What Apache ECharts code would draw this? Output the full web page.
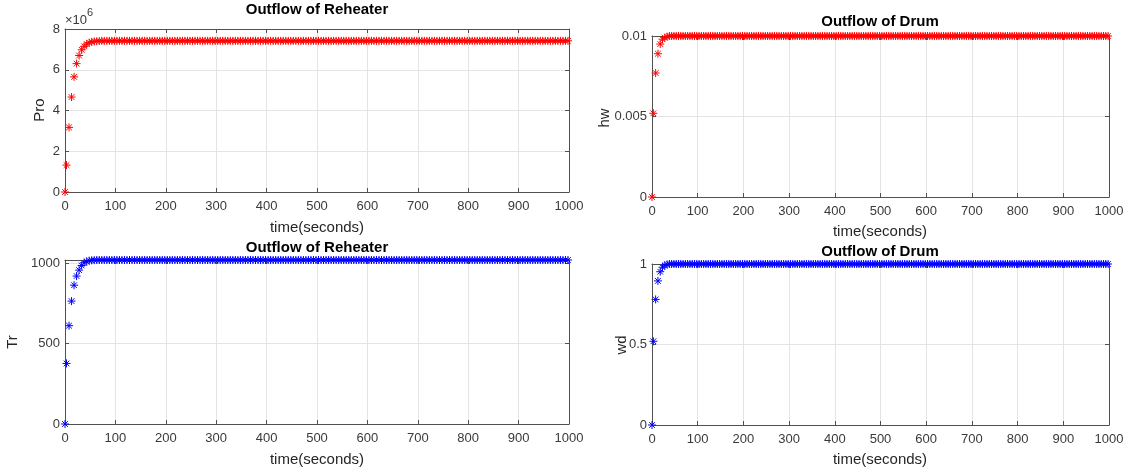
<!DOCTYPE html>
<html>
<head>
<meta charset="utf-8">
<script src="https://cdn.jsdelivr.net/npm/echarts@6/dist/echarts.min.js"></script>
<style>html,body{margin:0;padding:0;background:#fff;}#chart{width:1129px;height:470px;}</style>
</head>
<body>
<div id="chart"></div>
<script>
// time in seconds (sample instants)
const time = [0,3,8,13,18,23,28,33,38,43,48,53,58,63,68,73,78,83,88,93,98,
103,108,113,118,123,128,133,138,143,148,153,158,163,168,173,178,183,188,193,198,
203,208,213,218,223,228,233,238,243,248,253,258,263,268,273,278,283,288,293,298,
303,308,313,318,323,328,333,338,343,348,353,358,363,368,373,378,383,388,393,398,
403,408,413,418,423,428,433,438,443,448,453,458,463,468,473,478,483,488,493,498,
503,508,513,518,523,528,533,538,543,548,553,558,563,568,573,578,583,588,593,598,
603,608,613,618,623,628,633,638,643,648,653,658,663,668,673,678,683,688,693,698,
703,708,713,718,723,728,733,738,743,748,753,758,763,768,773,778,783,788,793,798,
803,808,813,818,823,828,833,838,843,848,853,858,863,868,873,878,883,888,893,898,
903,908,913,918,923,928,933,938,943,948,953,958,963,968,973,978,983,988,993,998];

// Pro, in units of 10^6
const pro = [0,1.32,3.17,4.66,5.65,6.3,6.7,6.98,7.15,7.26,7.33,7.37,7.39,7.4,7.41,7.42,7.42,7.42,7.42,7.42,7.42,
7.42,7.42,7.42,7.42,7.42,7.42,7.42,7.42,7.42,7.42,7.42,7.42,7.42,7.42,7.42,7.42,7.42,7.42,7.42,7.42,
7.42,7.42,7.42,7.42,7.42,7.42,7.42,7.42,7.42,7.42,7.42,7.42,7.42,7.42,7.42,7.42,7.42,7.42,7.42,7.42,
7.42,7.42,7.42,7.42,7.42,7.42,7.42,7.42,7.42,7.42,7.42,7.42,7.42,7.42,7.42,7.42,7.42,7.42,7.42,7.42,
7.42,7.42,7.42,7.42,7.42,7.42,7.42,7.42,7.42,7.42,7.42,7.42,7.42,7.42,7.42,7.42,7.42,7.42,7.42,7.42,
7.42,7.42,7.42,7.42,7.42,7.42,7.42,7.42,7.42,7.42,7.42,7.42,7.42,7.42,7.42,7.42,7.42,7.42,7.42,7.42,
7.42,7.42,7.42,7.42,7.42,7.42,7.42,7.42,7.42,7.42,7.42,7.42,7.42,7.42,7.42,7.42,7.42,7.42,7.42,7.42,
7.42,7.42,7.42,7.42,7.42,7.42,7.42,7.42,7.42,7.42,7.42,7.42,7.42,7.42,7.42,7.42,7.42,7.42,7.42,7.42,
7.42,7.42,7.42,7.42,7.42,7.42,7.42,7.42,7.42,7.42,7.42,7.42,7.42,7.42,7.42,7.42,7.42,7.42,7.42,7.42,
7.42,7.42,7.42,7.42,7.42,7.42,7.42,7.42,7.42,7.42,7.42,7.42,7.42,7.42,7.42,7.42,7.42,7.42,7.42,7.42];

const tr = [0,377,612,765,864,921,958,987,1004,1012,1017,1019,1020,1021,1021,1021,1021,1021,1021,1021,1021,
1021,1021,1021,1021,1021,1021,1021,1021,1021,1021,1021,1021,1021,1021,1021,1021,1021,1021,1021,1021,
1021,1021,1021,1021,1021,1021,1021,1021,1021,1021,1021,1021,1021,1021,1021,1021,1021,1021,1021,1021,
1021,1021,1021,1021,1021,1021,1021,1021,1021,1021,1021,1021,1021,1021,1021,1021,1021,1021,1021,1021,
1021,1021,1021,1021,1021,1021,1021,1021,1021,1021,1021,1021,1021,1021,1021,1021,1021,1021,1021,1021,
1021,1021,1021,1021,1021,1021,1021,1021,1021,1021,1021,1021,1021,1021,1021,1021,1021,1021,1021,1021,
1021,1021,1021,1021,1021,1021,1021,1021,1021,1021,1021,1021,1021,1021,1021,1021,1021,1021,1021,1021,
1021,1021,1021,1021,1021,1021,1021,1021,1021,1021,1021,1021,1021,1021,1021,1021,1021,1021,1021,1021,
1021,1021,1021,1021,1021,1021,1021,1021,1021,1021,1021,1021,1021,1021,1021,1021,1021,1021,1021,1021,
1021,1021,1021,1021,1021,1021,1021,1021,1021,1021,1021,1021,1021,1021,1021,1021,1021,1021,1021,1021];

const hw = [0,0.0052,0.0077,0.0089,0.0095,0.0098,0.0099,0.00996,0.01,0.01,0.01,0.01,0.01,0.01,0.01,0.01,0.01,0.01,0.01,0.01,0.01,
0.01,0.01,0.01,0.01,0.01,0.01,0.01,0.01,0.01,0.01,0.01,0.01,0.01,0.01,0.01,0.01,0.01,0.01,0.01,0.01,
0.01,0.01,0.01,0.01,0.01,0.01,0.01,0.01,0.01,0.01,0.01,0.01,0.01,0.01,0.01,0.01,0.01,0.01,0.01,0.01,
0.01,0.01,0.01,0.01,0.01,0.01,0.01,0.01,0.01,0.01,0.01,0.01,0.01,0.01,0.01,0.01,0.01,0.01,0.01,0.01,
0.01,0.01,0.01,0.01,0.01,0.01,0.01,0.01,0.01,0.01,0.01,0.01,0.01,0.01,0.01,0.01,0.01,0.01,0.01,0.01,
0.01,0.01,0.01,0.01,0.01,0.01,0.01,0.01,0.01,0.01,0.01,0.01,0.01,0.01,0.01,0.01,0.01,0.01,0.01,0.01,
0.01,0.01,0.01,0.01,0.01,0.01,0.01,0.01,0.01,0.01,0.01,0.01,0.01,0.01,0.01,0.01,0.01,0.01,0.01,0.01,
0.01,0.01,0.01,0.01,0.01,0.01,0.01,0.01,0.01,0.01,0.01,0.01,0.01,0.01,0.01,0.01,0.01,0.01,0.01,0.01,
0.01,0.01,0.01,0.01,0.01,0.01,0.01,0.01,0.01,0.01,0.01,0.01,0.01,0.01,0.01,0.01,0.01,0.01,0.01,0.01,
0.01,0.01,0.01,0.01,0.01,0.01,0.01,0.01,0.01,0.01,0.01,0.01,0.01,0.01,0.01,0.01,0.01,0.01,0.01,0.01];

const wd = [0,0.52,0.78,0.895,0.952,0.98,0.992,0.997,1,1,1,1,1,1,1,1,1,1,1,1,1,
1,1,1,1,1,1,1,1,1,1,1,1,1,1,1,1,1,1,1,1,
1,1,1,1,1,1,1,1,1,1,1,1,1,1,1,1,1,1,1,1,
1,1,1,1,1,1,1,1,1,1,1,1,1,1,1,1,1,1,1,1,
1,1,1,1,1,1,1,1,1,1,1,1,1,1,1,1,1,1,1,1,
1,1,1,1,1,1,1,1,1,1,1,1,1,1,1,1,1,1,1,1,
1,1,1,1,1,1,1,1,1,1,1,1,1,1,1,1,1,1,1,1,
1,1,1,1,1,1,1,1,1,1,1,1,1,1,1,1,1,1,1,1,
1,1,1,1,1,1,1,1,1,1,1,1,1,1,1,1,1,1,1,1,
1,1,1,1,1,1,1,1,1,1,1,1,1,1,1,1,1,1,1,1];

const titles = ['Outflow of Reheater', 'Outflow of Reheater', 'Outflow of Drum', 'Outflow of Drum'];
const yNames = ['Pro', 'Tr', 'hw', 'wd'];
const xName = 'time(seconds)';
const yMax = [8, 1021, 0.01, 1];
const yInterval = [2, 500, 0.005, 0.5];

const FONT = '"Liberation Sans", Arial, sans-serif';
const grids = [
  {left: 65, top: 29, width: 504, height: 163},
  {left: 65, top: 260, width: 504, height: 164},
  {left: 652, top: 36, width: 457, height: 161},
  {left: 652, top: 264, width: 457, height: 161}
];
const colors = ['#ff0000', '#0000ff', '#ff0000', '#0000ff'];
const seriesData = [pro, tr, hw, wd];
const star = 'path://M-5,0L5,0M0,-5L0,5M-3.54,-3.54L3.54,3.54M-3.54,3.54L3.54,-3.54';
const axisColor = '#505050';
const labelColor = '#3a3a3a';
const plain = v => String(+v.toPrecision(6));

const xAxes = [], yAxes = [], series = [];
for (let i = 0; i < 4; i++) {
  xAxes.push({
    type: 'value', gridIndex: i, min: 0, max: 1000, interval: 100,
    axisLine: {show: true, onZero: false, lineStyle: {color: axisColor, width: 1}},
    axisTick: {show: true, inside: true, length: 4, lineStyle: {color: axisColor}},
    axisLabel: {color: labelColor, fontSize: 13, fontFamily: FONT, margin: 8, formatter: plain},
    splitLine: {show: true, lineStyle: {color: '#e4e4e4', width: 1}}
  });
  yAxes.push({
    type: 'value', gridIndex: i, min: 0, max: yMax[i], interval: yInterval[i],
    axisLine: {show: true, onZero: false, lineStyle: {color: axisColor, width: 1}},
    axisTick: {show: true, inside: true, length: 4, lineStyle: {color: axisColor}},
    axisLabel: {color: labelColor, fontSize: 13, fontFamily: FONT, margin: 5, formatter: plain,
                showMaxLabel: i === 1 ? false : null},
    splitLine: {show: true, lineStyle: {color: '#e4e4e4', width: 1}}
  });
}
for (let i = 0; i < 4; i++) {
  xAxes.push({
    type: 'value', gridIndex: i, position: 'top', min: 0, max: 1000, interval: 100,
    axisLine: {show: true, onZero: false, lineStyle: {color: axisColor, width: 1}},
    axisTick: {show: true, inside: true, length: 4, lineStyle: {color: axisColor}},
    axisLabel: {show: false}, splitLine: {show: false}
  });
  yAxes.push({
    type: 'value', gridIndex: i, position: 'right', min: 0, max: yMax[i], interval: yInterval[i],
    axisLine: {show: true, onZero: false, lineStyle: {color: axisColor, width: 1}},
    axisTick: {show: true, inside: true, length: 4, lineStyle: {color: axisColor}},
    axisLabel: {show: false}, splitLine: {show: false}
  });
}
for (let i = 0; i < 4; i++) {
  series.push({
    type: 'scatter', xAxisIndex: i, yAxisIndex: i,
    data: time.map((t, k) => [t, seriesData[i][k]]),
    symbol: star, symbolSize: 8, clip: false,
    itemStyle: {color: colors[i], borderColor: colors[i], borderWidth: 1, opacity: 1},
    emphasis: {disabled: true},
    animation: false
  });
}

function txt(x, y, text, font, fill, rot) {
  return {type: 'text', x: x, y: y, rotation: rot || 0, silent: true,
    style: {text: text, font: font, fill: fill, align: 'center', verticalAlign: 'middle',
            textAlign: 'center', textVerticalAlign: 'middle'}};
}
const titlePos = [[317, 10], [317, 248], [880, 22], [880, 252]];
const xNamePos = [[317, 228], [317, 460], [880, 232], [880, 460]];
const yNamePos = [[40, 110], [13, 342], [605, 118], [622, 345]];
const graphics = [];
for (let i = 0; i < 4; i++) {
  graphics.push(txt(titlePos[i][0], titlePos[i][1], titles[i], 'bold 15px ' + FONT, '#000'));
  graphics.push(txt(xNamePos[i][0], xNamePos[i][1], xName, '15px ' + FONT, '#262626'));
  graphics.push(txt(yNamePos[i][0], yNamePos[i][1], yNames[i], '15px ' + FONT, '#262626', Math.PI / 2));
}
graphics.push({type: 'text', x: 65, y: 20, silent: true,
  style: {text: '\u00d710', font: '13px ' + FONT, fill: '#3a3a3a', align: 'left', verticalAlign: 'middle', textAlign: 'left', textVerticalAlign: 'middle'}});
graphics.push({type: 'text', x: 87, y: 13, silent: true,
  style: {text: '6', font: '11px ' + FONT, fill: '#3a3a3a', align: 'left', verticalAlign: 'middle', textAlign: 'left', textVerticalAlign: 'middle'}});

const chart = echarts.init(document.getElementById('chart'), null, {renderer: 'canvas'});
chart.setOption({
  backgroundColor: '#ffffff',
  animation: false,
  grid: grids.map(g => Object.assign({containLabel: false}, g)),
  xAxis: xAxes,
  yAxis: yAxes,
  series: series,
  graphic: graphics
});
</script>
</body>
</html>
